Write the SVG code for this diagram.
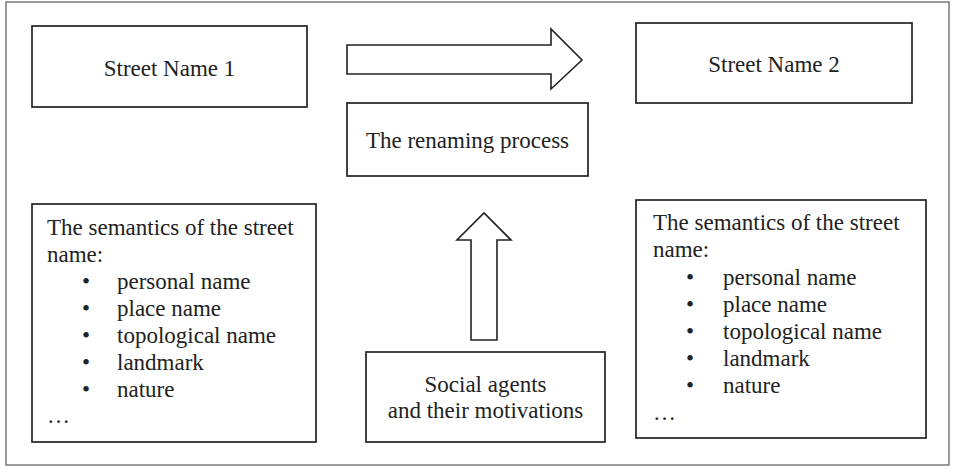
<svg xmlns="http://www.w3.org/2000/svg" width="953" height="466" viewBox="0 0 953 466">
<style>
.box{fill:#fff;stroke:#222;stroke-width:1.7}
.arr{fill:#fff;stroke:#222;stroke-width:1.6;stroke-linejoin:miter}
.frame{fill:#fff;stroke:#666;stroke-width:1.3}
text{font-family:"Liberation Serif","Times New Roman",serif;font-size:23px;fill:#222}
.c{text-anchor:middle}
</style>
<rect class="frame" x="6" y="2" width="943" height="463"/>
<g id="street1">
<rect class="box" x="32" y="26" width="275" height="81"/>
<text class="c" x="169.5" y="76">Street Name 1</text>
</g>
<g id="street2">
<rect class="box" x="636" y="23" width="276" height="80"/>
<text class="c" x="774" y="72">Street Name 2</text>
</g>
<g id="renaming">
<rect class="box" x="347" y="103" width="241" height="73"/>
<text class="c" x="467.5" y="148">The renaming process</text>
</g>
<g id="social">
<rect class="box" x="366" y="352" width="239" height="90"/>
<text class="c" x="485.5" y="392">Social agents</text>
<text class="c" x="485.5" y="418">and their motivations</text>
</g>
<g id="semantics1">
<rect class="box" x="32" y="204" width="284" height="238"/>
<text x="47" y="235">The semantics of the street</text>
<text x="47" y="262">name:</text>
<text x="82" y="289">•</text><text x="117" y="289">personal name</text>
<text x="82" y="316">•</text><text x="117" y="316">place name</text>
<text x="82" y="343">•</text><text x="117" y="343">topological name</text>
<text x="82" y="370">•</text><text x="117" y="370">landmark</text>
<text x="82" y="397">•</text><text x="117" y="397">nature</text>
<text x="47" y="423">…</text>
</g>
<g id="semantics2">
<rect class="box" x="636" y="200" width="290" height="238"/>
<text x="653" y="230">The semantics of the street</text>
<text x="653" y="257">name:</text>
<text x="686" y="285">•</text><text x="723" y="285">personal name</text>
<text x="686" y="312">•</text><text x="723" y="312">place name</text>
<text x="686" y="339">•</text><text x="723" y="339">topological name</text>
<text x="686" y="366">•</text><text x="723" y="366">landmark</text>
<text x="686" y="393">•</text><text x="723" y="393">nature</text>
<text x="653" y="420">…</text>
</g>
<g id="connectors">
<polygon class="arr" points="347,45 551,45 551,29 582,60 551,89 551,74 347,74"/>
<polygon class="arr" points="471,340 471,240 457,240 484,213 511,240 497,240 497,340"/>
</g>
</svg>
